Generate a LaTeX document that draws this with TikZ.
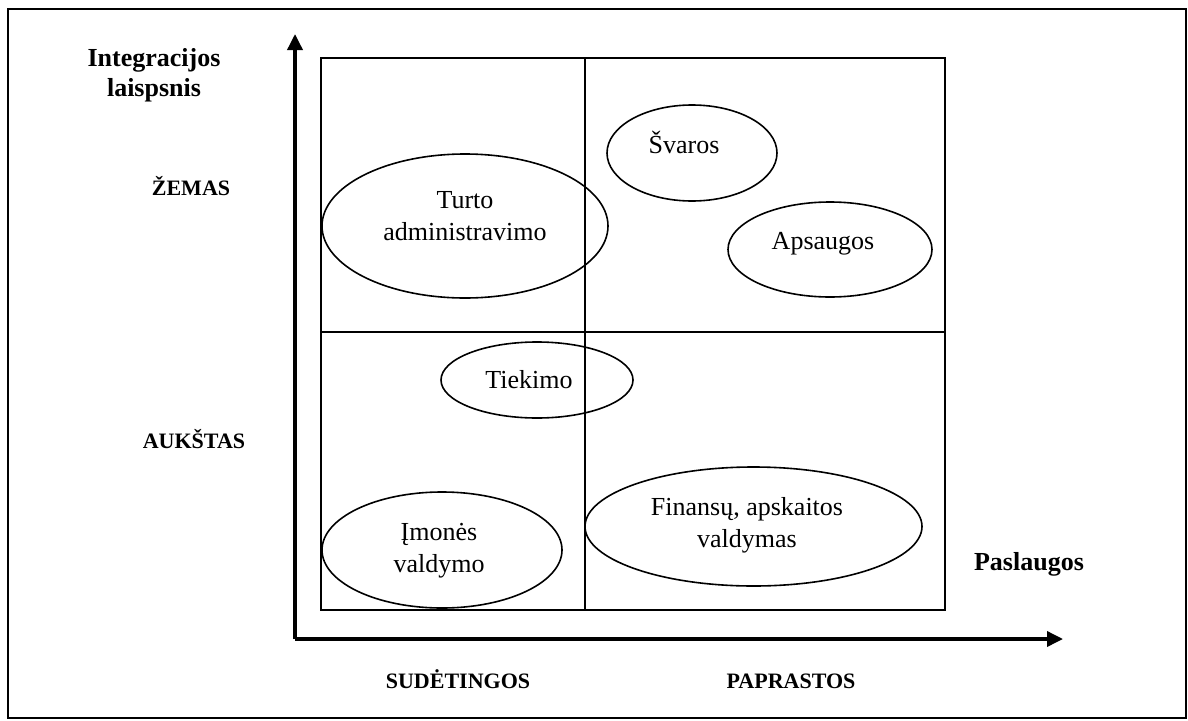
\documentclass[tikz,border=0pt]{standalone}
\usepackage{fontspec}
\setmainfont{Liberation Serif}
\usetikzlibrary{shapes.geometric,arrows.meta}
\begin{document}
\begin{tikzpicture}[x=1pt,y=-1pt,
  oval/.style={draw,ellipse,line width=1.6pt,inner sep=0pt},
  ovaltext/.style={align=center,inner sep=0pt,font=\fontsize{26}{32}\selectfont},
  grid/.style={line width=1.5pt},
  axis/.style={line width=3.5pt,-{Triangle[length=16pt,width=15pt]}},
  axislabel/.style={font=\fontsize{26}{30}\selectfont\bfseries,align=center},
  level/.style={font=\fontsize{22}{26}\selectfont\bfseries,anchor=base}]
  % page and outer frame
  \useasboundingbox (0,0) rectangle (1188,720);
  \draw[line width=1.5pt] (8,9) rectangle (1186,718);

  % quadrant grid
  \coordinate (gtl) at (321,58);
  \coordinate (gbr) at (945,610);
  \draw[grid] (gtl) rectangle (gbr);
  \draw[grid] (585,58) -- (585,610);
  \draw[grid] (321,332) -- (945,332);

  % axes
  \coordinate (o) at (295,639);
  \coordinate (ytip) at (295,34);
  \coordinate (xtip) at (1063,639);
  \draw[axis] (o) -- (ytip);
  \draw[axis] (o) -- (xtip);

  % axis titles and levels
  \node[axislabel] (ytitle) at (154,75) {Integracijos\\laispsnis};
  \node[axislabel,anchor=base] (xtitle) at (1029,570) {Paslaugos};
  \node[level] (low) at (191,195) {ŽEMAS};
  \node[level] (high) at (194,448) {AUKŠTAS};
  \node[level] (complex) at (458,688) {SUDĖTINGOS};
  \node[level] (simple) at (791,688) {PAPRASTOS};

  % service groups
  \node[oval,minimum width=286pt,minimum height=144pt] (turto) at (465,226) {};
  \node[oval,minimum width=170pt,minimum height=96pt] (svaros) at (692,153) {};
  \node[oval,minimum width=204pt,minimum height=95pt] (apsaugos) at (830,249.5) {};
  \node[oval,minimum width=192pt,minimum height=76pt] (tiekimo) at (537,380) {};
  \node[oval,minimum width=240pt,minimum height=116pt] (imones) at (442,550) {};
  \node[oval,minimum width=337pt,minimum height=119pt] (finansu) at (753.5,526.5) {};

  % group names
  \node[ovaltext] (turto-t) at (465,216) {Turto\\administravimo};
  \node[ovaltext,anchor=base] (svaros-t) at (684,153) {Švaros};
  \node[ovaltext,anchor=base] (apsaugos-t) at (823,249) {Apsaugos};
  \node[ovaltext,anchor=base] (tiekimo-t) at (529,388) {Tiekimo};
  \node[ovaltext] (imones-t) at (439,551) {Įmonės\\valdymo};
  \node[ovaltext] (finansu-t) at (747,525) {Finansų, apskaitos\\valdymas};
\end{tikzpicture}
\end{document}
